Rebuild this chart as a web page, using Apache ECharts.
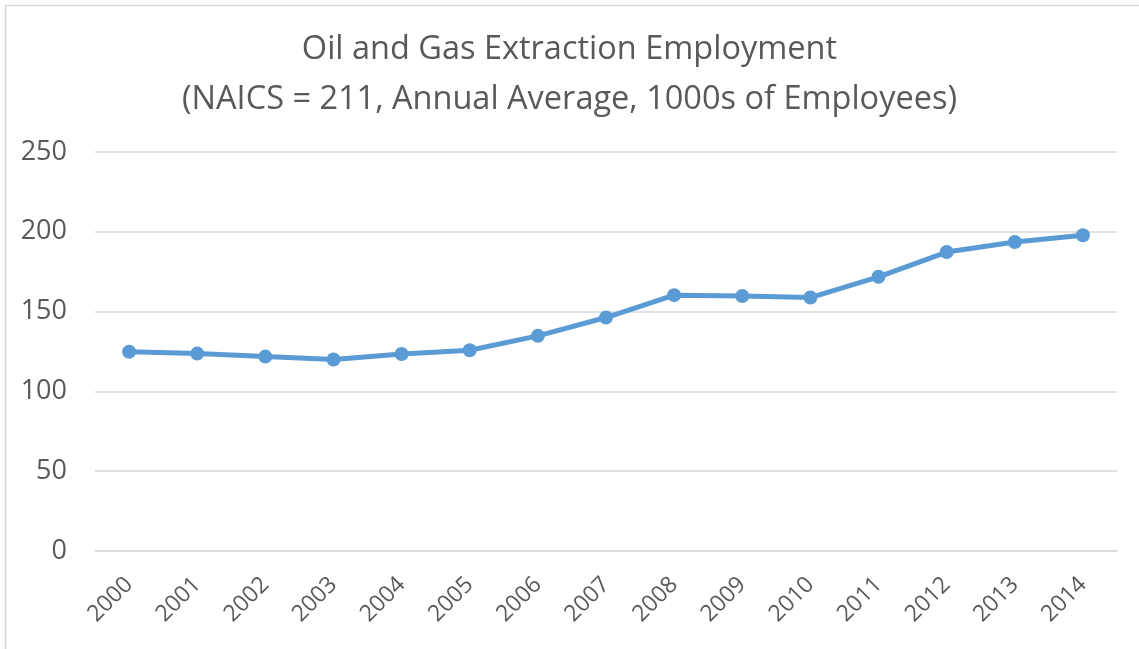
<!DOCTYPE html>
<html>
<head>
<meta charset="utf-8">
<script src="https://cdn.jsdelivr.net/npm/echarts@6/dist/echarts.min.js"></script>
<style>
html,body{margin:0;padding:0;background:#fff;}
#chart{width:1139px;height:649px;}
</style>
</head>
<body>
<div id="chart"></div>
<script>
var titleLines = ['Oil and Gas Extraction Employment', '(NAICS = 211, Annual Average, 1000s of Employees)'];
var years = ['2000','2001','2002','2003','2004','2005','2006','2007','2008','2009','2010','2011','2012','2013','2014'];
var employment = [124.8, 123.7, 121.8, 120.0, 123.4, 125.8, 134.8, 146.3, 160.3, 159.8, 158.8, 171.8, 187.3, 193.6, 197.8];
var yMin = 0, yMax = 250, yStep = 50;

var FONT = '"Open Sans", "Liberation Sans", sans-serif';
var chart = echarts.init(document.getElementById('chart'), null, {renderer: 'canvas'});
chart.setOption({
  animation: false,
  backgroundColor: '#ffffff',
  graphic: [{
    type: 'rect',
    shape: {x: 5.5, y: 5.5, width: 1150, height: 660},
    style: {fill: 'none', stroke: '#d9d9d9', lineWidth: 1.5},
    silent: true
  }],
  title: {
    text: titleLines.join('\n'),
    left: 'center',
    top: 25,
    padding: 0,
    textStyle: {
      fontFamily: FONT,
      fontSize: 32.5,
      fontWeight: 'normal',
      color: '#595959',
      lineHeight: 50
    }
  },
  grid: {left: 95, right: 22, top: 152, bottom: 98, containLabel: false},
  xAxis: {
    type: 'category',
    data: years,
    boundaryGap: true,
    axisLine: {show: true, lineStyle: {color: '#d9d9d9', width: 1.5}},
    axisTick: {show: false},
    axisLabel: {
      rotate: 45,
      margin: 30,
      fontFamily: FONT,
      fontSize: 23,
      color: '#595959',
      interval: 0
    },
    splitLine: {show: false}
  },
  yAxis: {
    type: 'value',
    min: yMin, max: yMax, interval: yStep,
    axisLine: {show: false},
    axisTick: {show: false},
    axisLabel: {
      margin: 28,
      fontFamily: FONT,
      fontSize: 27,
      color: '#595959'
    },
    splitLine: {show: true, lineStyle: {color: '#d9d9d9', width: 1.5}}
  },
  series: [{
    type: 'line',
    data: employment,
    symbol: 'circle',
    symbolSize: 14,
    lineStyle: {color: '#5b9bd5', width: 5},
    itemStyle: {color: '#5b9bd5'}
  }]
});
</script>
</body>
</html>
